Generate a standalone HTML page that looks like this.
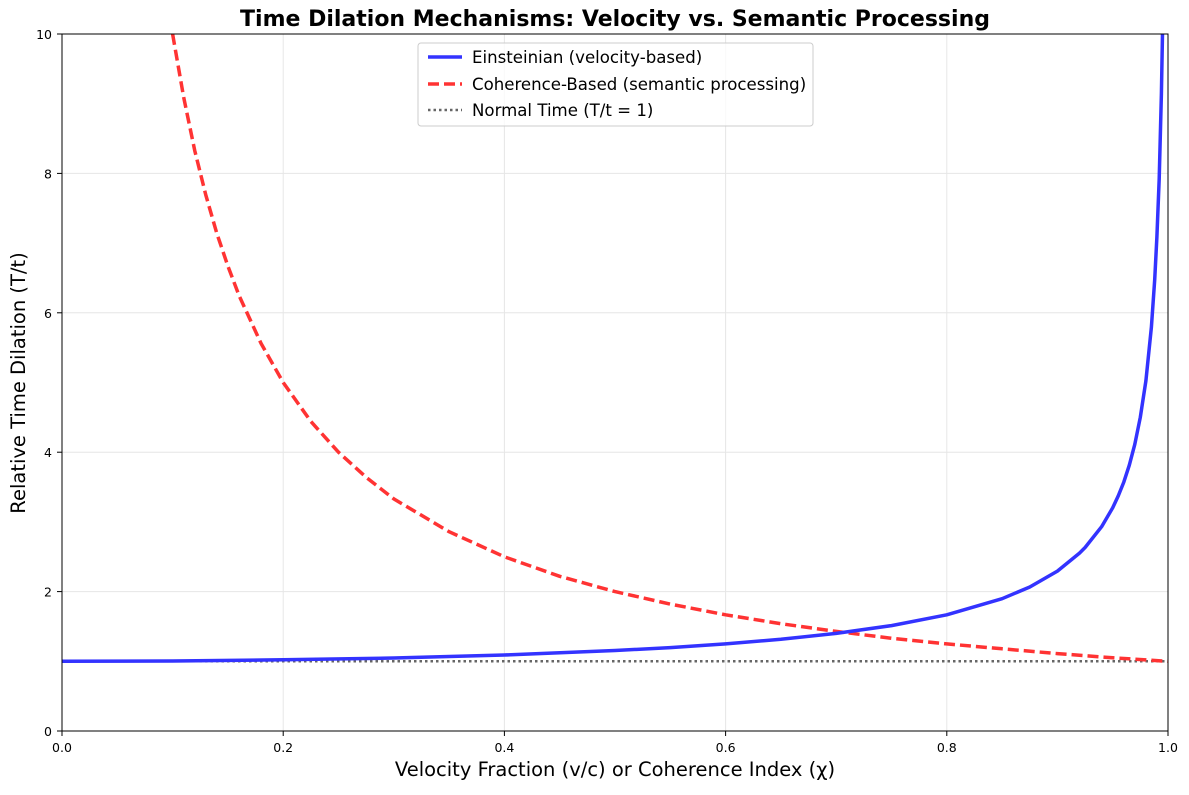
<!DOCTYPE html>
<html><head><meta charset="utf-8"><style>
body{margin:0;background:#fff}
svg{font-family:"DejaVu Sans","Liberation Sans",sans-serif}
</style></head><body>
<svg width="1189" height="790">
<defs><clipPath id="pa"><rect x="62" y="34" width="1106" height="697"/></clipPath></defs>
<text x="615" y="26" text-anchor="middle" font-size="22" font-weight="bold">Time Dilation Mechanisms: Velocity vs. Semantic Processing</text>
<g id="grid"></g>
<g id="ticks"></g>
<g id="series" clip-path="url(#pa)"></g>
<rect x="62" y="34" width="1106" height="697" fill="none" stroke="#000" stroke-width="1"/>
<text x="615" y="776" text-anchor="middle" font-size="19.5">Velocity Fraction (v/c) or Coherence Index (χ)</text>
<text transform="translate(25,383) rotate(-90)" text-anchor="middle" font-size="19.5">Relative Time Dilation (T/t)</text>
<g>
<rect x="418" y="43" width="395" height="83" rx="3" fill="#fff" fill-opacity="0.8" stroke="#ccc"/>
<line x1="428" y1="57" x2="462" y2="57" stroke="#3333ff" stroke-width="3.5"/>
<text x="472" y="63" font-size="16.6">Einsteinian (velocity-based)</text>
<line x1="428" y1="84" x2="462" y2="84" stroke="#ff3333" stroke-width="3.5" stroke-dasharray="11,5"/>
<text x="472" y="90" font-size="16.6">Coherence-Based (semantic processing)</text>
<line x1="428" y1="110" x2="462" y2="110" stroke="#666" stroke-width="2.5" stroke-dasharray="2.5,3"/>
<text x="472" y="116" font-size="16.6">Normal Time (T/t = 1)</text>
</g>
</svg>
<script>
const xTicks=[0,0.2,0.4,0.6,0.8,1.0];
const yTicks=[0,2,4,6,8,10];
const einX=[0,0.1,0.2,0.3,0.4,0.5,0.55,0.6,0.65,0.7,0.75,0.8,0.85,0.875,0.9,0.92,0.925,0.94,0.95,0.955,0.96,0.965,0.97,0.975,0.98,0.985,0.988,0.99,0.992,0.994,0.995];
const einY=[1,1.005,1.021,1.048,1.091,1.155,1.197,1.25,1.316,1.4,1.512,1.667,1.898,2.066,2.294,2.552,2.632,2.931,3.203,3.371,3.571,3.813,4.113,4.5,5.025,5.795,6.474,7.089,7.922,9.143,10.01];
const cohX=[0.1,0.11,0.12,0.13,0.14,0.15,0.16,0.18,0.2,0.225,0.25,0.275,0.3,0.35,0.4,0.45,0.5,0.55,0.6,0.65,0.7,0.75,0.8,0.85,0.9,0.95,1.0];
const cohY=[10,9.09,8.33,7.69,7.14,6.67,6.25,5.56,5,4.44,4,3.64,3.33,2.86,2.5,2.22,2,1.82,1.667,1.54,1.429,1.33,1.25,1.18,1.111,1.05,1];
const normX=[0,1];
const normY=[1,1];
const NS='http://www.w3.org/2000/svg';
const X=v=>62+v*1106, Y=v=>731-v*69.7;
function mk(t,a,p){const e=document.createElementNS(NS,t);for(const k in a)e.setAttribute(k,a[k]);p.appendChild(e);return e;}
const g=document.getElementById('grid'),tk=document.getElementById('ticks'),s=document.getElementById('series');
xTicks.forEach(v=>{
 const l=mk('line',{x1:X(v),x2:X(v),y1:34,y2:731,stroke:'#e6e6e6'},g);
 
 
 mk('line',{x1:X(v),x2:X(v),y1:731,y2:736,stroke:'#000'},tk);
 const t=mk('text',{x:X(v),y:752,'text-anchor':'middle','font-size':12.5},tk);t.textContent=v.toFixed(1);
 
 
});
yTicks.forEach(v=>{
 const l=mk('line',{x1:62,x2:1168,y1:Y(v),y2:Y(v),stroke:'#e6e6e6'},g);
 
 
 mk('line',{x1:57,x2:62,y1:Y(v),y2:Y(v),stroke:'#000'},tk);
 const t=mk('text',{x:52,y:Y(v)+5,'text-anchor':'end','font-size':12.5},tk);t.textContent=v;
 
 
});
function path(xs,ys){return xs.map((x,i)=>(i?'L':'M')+X(x).toFixed(1)+','+Y(ys[i]).toFixed(1)).join('');}
const n=mk('path',{d:path(normX,normY),fill:'none',stroke:'#666','stroke-width':2.5,'stroke-dasharray':'2.5,3'},s);


const c=mk('path',{d:path(cohX,cohY),fill:'none',stroke:'#ff3333','stroke-width':3.5,'stroke-dasharray':'11,5','stroke-linejoin':'round'},s);


const e=mk('path',{d:path(einX,einY),fill:'none',stroke:'#3333ff','stroke-width':3.5,'stroke-linejoin':'round'},s);


</script>
</body></html>
